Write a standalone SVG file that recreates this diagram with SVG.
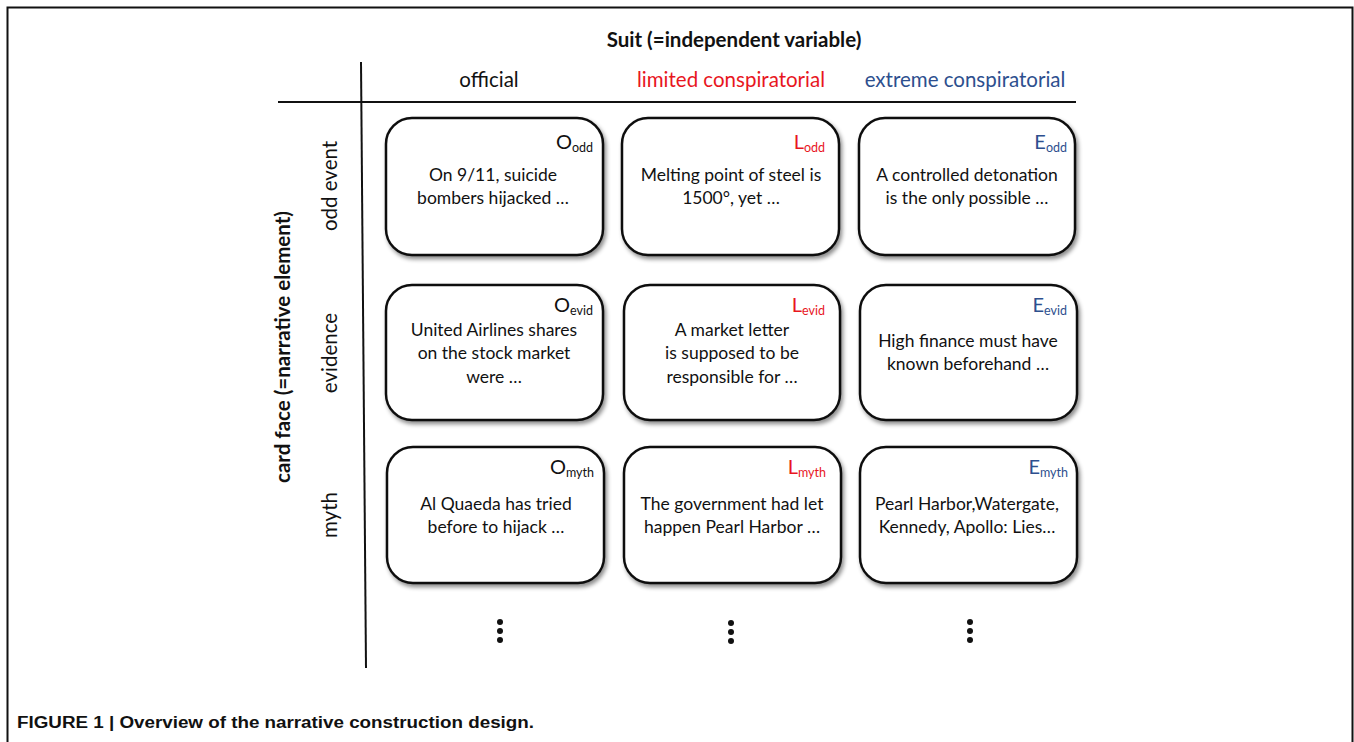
<svg xmlns="http://www.w3.org/2000/svg" width="1354" height="742" viewBox="0 0 1354 742">
<defs>
<filter id="sh" x="-10%" y="-10%" width="125%" height="130%">
<feDropShadow dx="2" dy="3" stdDeviation="2" flood-color="#000" flood-opacity="0.45"/>
</filter>
<style>
.card{fill:#fff;stroke:#111;stroke-width:2.5;filter:url(#sh)}
.t{font-family:Lato,"Open Sans",sans-serif;font-size:17.5px;fill:#111;text-anchor:middle}
.h{font-family:Lato,"Open Sans",sans-serif;font-size:20.5px;fill:#111;text-anchor:middle}
.b{font-family:Lato,"Open Sans",sans-serif;font-size:20.5px;font-weight:bold;fill:#111;text-anchor:middle}
.lab{font-family:Lato,"Open Sans",sans-serif;font-size:20px;text-anchor:end}
.sub{font-size:12.5px}
.red{fill:#e8161e}
.blue{fill:#2d4f8e}
.blk{fill:#111}
.ln{stroke:#111;stroke-width:2;fill:none}
.dot{fill:#111}
</style>
</defs>
<rect width="1354" height="742" fill="#fff"/>
<path d="M7.5,742 V7.5 H1352.5 V742" fill="none" stroke="#111" stroke-width="2"/>

<g id="axes">
<line class="ln" x1="361" y1="62" x2="366" y2="668"/>
<line class="ln" x1="278" y1="102" x2="1076" y2="102"/>
<text class="b" x="734" y="47">Suit (=independent variable)</text>
<text class="h" x="489" y="87">official</text>
<text class="h red" x="731" y="87">limited conspiratorial</text>
<text class="h blue" x="965" y="87">extreme conspiratorial</text>
<text class="h" transform="translate(337,186) rotate(-90)">odd event</text>
<text class="h" transform="translate(337,353) rotate(-90)">evidence</text>
<text class="h" transform="translate(337,515) rotate(-90)">myth</text>
<text class="b" transform="translate(290,347) rotate(-90)">card face (=narrative element)</text>
</g>

<g id="O_odd">
<rect class="card" x="386" y="118" width="217" height="137" rx="26"/>
<text class="lab blk" x="593" y="149">O<tspan class="sub" dy="3">odd</tspan></text>
<text class="t" x="493" y="181">On 9/11, suicide</text>
<text class="t" x="493" y="204">bombers hijacked …</text>
</g>
<g id="L_odd">
<rect class="card" x="622" y="118" width="217" height="137" rx="26"/>
<text class="lab red" x="825" y="149">L<tspan class="sub" dy="3">odd</tspan></text>
<text class="t" x="731" y="181">Melting point of steel is</text>
<text class="t" x="731" y="204">1500°, yet …</text>
</g>
<g id="E_odd">
<rect class="card" x="859" y="118" width="216" height="137" rx="26"/>
<text class="lab blue" x="1067" y="149">E<tspan class="sub" dy="3">odd</tspan></text>
<text class="t" x="967" y="181">A controlled detonation</text>
<text class="t" x="967" y="204">is the only possible …</text>
</g>

<g id="O_evid">
<rect class="card" x="386" y="285" width="217" height="135" rx="26"/>
<text class="lab blk" x="593" y="312">O<tspan class="sub" dy="3">evid</tspan></text>
<text class="t" x="494" y="336">United Airlines shares</text>
<text class="t" x="494" y="359">on the stock market</text>
<text class="t" x="494" y="383">were …</text>
</g>
<g id="L_evid">
<rect class="card" x="624" y="285" width="216" height="135" rx="26"/>
<text class="lab red" x="825" y="312">L<tspan class="sub" dy="3">evid</tspan></text>
<text class="t" x="732" y="336">A market letter</text>
<text class="t" x="732" y="359">is supposed to be</text>
<text class="t" x="732" y="383">responsible for …</text>
</g>
<g id="E_evid">
<rect class="card" x="860" y="285" width="217" height="135" rx="26"/>
<text class="lab blue" x="1067" y="312">E<tspan class="sub" dy="3">evid</tspan></text>
<text class="t" x="968" y="347">High finance must have</text>
<text class="t" x="968" y="370">known beforehand …</text>
</g>

<g id="O_myth">
<rect class="card" x="387" y="447" width="217" height="136" rx="26"/>
<text class="lab blk" x="594" y="474">O<tspan class="sub" dy="3">myth</tspan></text>
<text class="t" x="496" y="510">Al Quaeda has tried</text>
<text class="t" x="496" y="533">before to hijack …</text>
</g>
<g id="L_myth">
<rect class="card" x="624" y="447" width="217" height="136" rx="26"/>
<text class="lab red" x="826" y="474">L<tspan class="sub" dy="3">myth</tspan></text>
<text class="t" x="732" y="510">The government had let</text>
<text class="t" x="732" y="533">happen Pearl Harbor …</text>
</g>
<g id="E_myth">
<rect class="card" x="860" y="447" width="217" height="136" rx="26"/>
<text class="lab blue" x="1068" y="474">E<tspan class="sub" dy="3">myth</tspan></text>
<text class="t" x="967" y="510">Pearl Harbor,Watergate,</text>
<text class="t" x="967" y="533">Kennedy, Apollo: Lies…</text>
</g>

<g id="dots">
<circle class="dot" cx="500" cy="622" r="3"/><circle class="dot" cx="500" cy="631" r="3"/><circle class="dot" cx="500" cy="640" r="3"/>
<circle class="dot" cx="731" cy="623" r="3"/><circle class="dot" cx="731" cy="632" r="3"/><circle class="dot" cx="731" cy="641" r="3"/>
<circle class="dot" cx="970" cy="622" r="3"/><circle class="dot" cx="970" cy="631" r="3"/><circle class="dot" cx="970" cy="640" r="3"/>
</g>

<text x="17" y="728" font-family="'Liberation Sans',Arial,sans-serif" font-weight="bold" font-size="16" fill="#111" textLength="517" lengthAdjust="spacingAndGlyphs">FIGURE 1 | Overview of the narrative construction design.</text>
</svg>
